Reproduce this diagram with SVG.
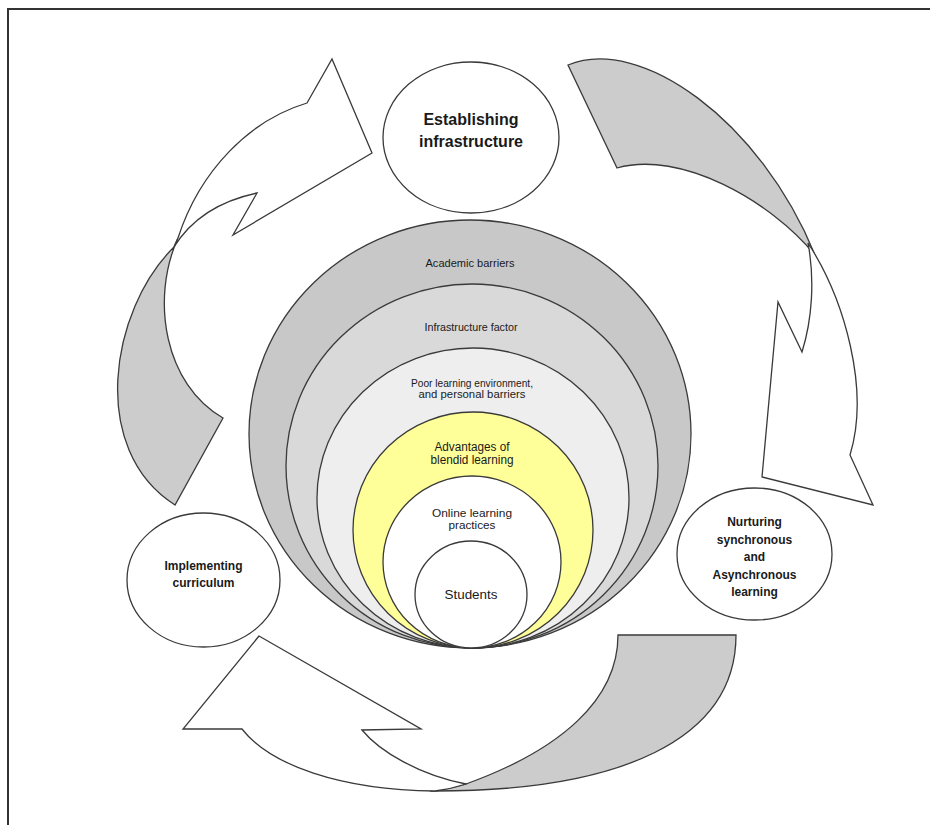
<svg xmlns="http://www.w3.org/2000/svg" width="930" height="825" viewBox="0 0 930 825">
<style>
.ln{stroke:#3a3a3a;stroke-width:1.3;stroke-linejoin:miter}
.gray{fill:#cccccc}
.white{fill:#ffffff}
.lbl{font-family:"Liberation Sans",Arial,sans-serif;fill:#1a1a1a;text-anchor:middle}
.bold{font-weight:bold}
</style>
<rect x="0" y="0" width="930" height="825" fill="#ffffff"/>
<rect x="8" y="9" width="940" height="840" fill="none" stroke="#333" stroke-width="2"/>
<g id="connectors">
  <g id="arrow-left">
    <path class="ln gray" d="M174,247 C110,310 88,450 175,505 L223,418 C165,385 150,300 178,238 Z"/>
    <path class="ln white" d="M178,238 C200,170 250,120 307,103 L332,59 L372,153 L233,235 L257,193 Q200,205 174,247 Z"/>
  </g>
  <g id="arrow-right">
    <path class="ln gray" d="M568,65 C640,35 760,120 815,255 C770,200 680,150 617,168 Z"/>
    <path class="ln white" d="M808,243 C845,300 870,390 850,455 L873,505 L762,477 L778,302 L802,352 C812,320 815,280 808,243 Z"/>
  </g>
  <g id="arrow-bottom">
    <path class="ln gray" d="M618,635 L736,635 C736,740 620,792 430,791 C450,789 460,786 466,784 C560,750 618,700 618,635 Z"/>
    <path class="ln white" d="M259,636 L183,729 L242,729 C270,765 340,790 435,791 C450,789 460,786 466,784 C420,775 380,752 362,730 L421,729 Z"/>
  </g>
</g>
<g id="layer-academic">
  <ellipse class="ln" cx="470" cy="434" rx="221" ry="214" fill="#c8c8c8"/>
  <text class="lbl" x="470" y="266.5" font-size="10" textLength="89" lengthAdjust="spacingAndGlyphs">Academic barriers</text>
</g>
<g id="layer-infrastructure">
  <ellipse class="ln" cx="472" cy="466" rx="186" ry="182" fill="#d9d9d9"/>
  <text class="lbl" x="471" y="330.5" font-size="10" textLength="93" lengthAdjust="spacingAndGlyphs">Infrastructure factor</text>
</g>
<g id="layer-poor">
  <ellipse class="ln" cx="473" cy="498" rx="156" ry="150" fill="#eeeeee"/>
  <text class="lbl" x="472" y="387" font-size="10" textLength="122" lengthAdjust="spacingAndGlyphs">Poor learning environment,</text>
  <text class="lbl" x="472" y="398" font-size="10" textLength="107" lengthAdjust="spacingAndGlyphs">and  personal barriers</text>
</g>
<g id="layer-advantages">
  <ellipse class="ln" cx="473" cy="530" rx="120" ry="118" fill="#ffff99"/>
  <text class="lbl" x="472" y="451" font-size="12" textLength="75" lengthAdjust="spacingAndGlyphs">Advantages  of</text>
  <text class="lbl" x="472" y="464" font-size="12" textLength="83" lengthAdjust="spacingAndGlyphs">blendid learning</text>
</g>
<g id="layer-online">
  <ellipse class="ln" cx="472" cy="562" rx="89" ry="86" fill="#ffffff"/>
  <text class="lbl" x="472" y="517" font-size="11" textLength="80" lengthAdjust="spacingAndGlyphs">Online learning</text>
  <text class="lbl" x="472" y="529" font-size="11" textLength="47" lengthAdjust="spacingAndGlyphs">practices</text>
</g>
<g id="layer-students">
  <ellipse class="ln" cx="471" cy="594.5" rx="56" ry="53.5" fill="#ffffff"/>
  <text class="lbl" x="471" y="598.5" font-size="13" textLength="53" lengthAdjust="spacingAndGlyphs">Students</text>
</g>
<g id="node-establishing">
  <ellipse class="ln" cx="471" cy="137.5" rx="88" ry="75.5" fill="#ffffff"/>
  <text class="lbl bold" x="471" y="125" font-size="16">Establishing</text>
  <text class="lbl bold" x="471" y="147" font-size="16">infrastructure</text>
</g>
<g id="node-implementing">
  <ellipse class="ln" cx="203.5" cy="580" rx="76.5" ry="67" fill="#ffffff"/>
  <text class="lbl bold" x="203.5" y="570" font-size="12">Implementing</text>
  <text class="lbl bold" x="203.5" y="587" font-size="12">curriculum</text>
</g>
<g id="node-nurturing">
  <ellipse class="ln" cx="754.5" cy="554" rx="77.5" ry="66" fill="#ffffff"/>
  <text class="lbl bold" x="754.5" y="526" font-size="12">Nurturing</text>
  <text class="lbl bold" x="754.5" y="543.5" font-size="12">synchronous</text>
  <text class="lbl bold" x="754.5" y="561" font-size="12">and</text>
  <text class="lbl bold" x="754.5" y="578.5" font-size="12">Asynchronous</text>
  <text class="lbl bold" x="754.5" y="596" font-size="12">learning</text>
</g>
</svg>
